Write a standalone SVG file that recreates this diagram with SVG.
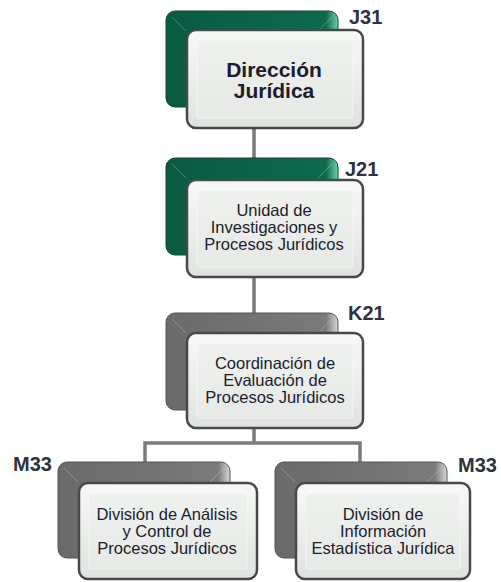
<svg xmlns="http://www.w3.org/2000/svg" width="501" height="582" viewBox="0 0 501 582">
<defs>
<linearGradient id="gFront" x1="0" y1="0" x2="0" y2="1">
<stop offset="0" stop-color="#f7f9f7"/><stop offset="1" stop-color="#dfe3df"/>
</linearGradient>
<linearGradient id="gInner" x1="0" y1="0" x2="0" y2="1">
<stop offset="0" stop-color="#eef1ee"/><stop offset="1" stop-color="#e6e9e6"/>
</linearGradient>
<linearGradient id="gGreen" x1="0" y1="0" x2="1" y2="0">
<stop offset="0" stop-color="#0a5a42"/><stop offset="0.93" stop-color="#0c6a4d"/><stop offset="1" stop-color="#6fd0a8"/>
</linearGradient>
<linearGradient id="gGrey" x1="0" y1="0" x2="1" y2="0">
<stop offset="0" stop-color="#6a6a6a"/><stop offset="0.93" stop-color="#7a7a7a"/><stop offset="1" stop-color="#d8d8d8"/>
</linearGradient>
</defs>
<style>
.front{fill:url(#gFront);stroke:#484848;stroke-width:2.5}
.inner{fill:url(#gInner);stroke:#ffffff;stroke-opacity:0.6;stroke-width:1}
.green{fill:url(#gGreen);stroke:#084a36;stroke-width:1}
.grey{fill:url(#gGrey);stroke:#555;stroke-width:1}
.bev{fill:none;stroke:#ffffff;stroke-opacity:0.25;stroke-width:1}
.t{font-family:"Liberation Sans",Arial,sans-serif;font-size:16.5px;fill:#1c1c2e;text-anchor:middle}
.tb{font-family:"Liberation Sans",Arial,sans-serif;font-size:21px;font-weight:bold;fill:#1c1c2e;text-anchor:middle}
.lab{font-family:"Liberation Sans",Arial,sans-serif;font-size:20px;font-weight:bold;fill:#2b3340}
.con{fill:none;stroke:#7a7a7a;stroke-width:3.5}
</style>
<g id="connectors">
<path class="con" d="M254 100V200"/>
<path class="con" d="M254 260V340"/>
<path class="con" d="M254 420V443H145V470M254 443H360V470"/>
</g>
<g id="j31">
<rect class="green" x="166" y="11" width="172" height="96" rx="9"/>
<path class="bev" d="M172 17L186 31M332 17L318 31"/>
<rect class="front" x="187" y="30" width="176" height="98" rx="9"/>
<rect class="inner" x="197" y="40" width="156" height="78" rx="2"/>
<text class="tb" x="274" y="77">Dirección</text>
<text class="tb" x="274" y="98">Jurídica</text>
<text class="lab" x="349" y="24">J31</text>
</g>
<g id="j21">
<rect class="green" x="166" y="158" width="172" height="97" rx="9"/>
<path class="bev" d="M172 164L186 178M332 164L318 178"/>
<rect class="front" x="187" y="180" width="176" height="97" rx="9"/>
<rect class="inner" x="197" y="190" width="156" height="77" rx="2"/>
<text class="t" x="274" y="216">Unidad de</text>
<text class="t" x="274" y="233">Investigaciones y</text>
<text class="t" x="274" y="250">Procesos Jurídicos</text>
<text class="lab" x="345" y="176">J21</text>
</g>
<g id="k21">
<rect class="grey" x="166" y="313" width="172" height="97" rx="9"/>
<path class="bev" d="M172 319L186 333M332 319L318 333"/>
<rect class="front" x="187" y="333" width="176" height="95" rx="9"/>
<rect class="inner" x="197" y="343" width="156" height="75" rx="2"/>
<text class="t" x="275" y="369">Coordinación de</text>
<text class="t" x="275" y="386">Evaluación de</text>
<text class="t" x="275" y="403">Procesos Jurídicos</text>
<text class="lab" x="348" y="320">K21</text>
</g>
<g id="m33a">
<rect class="grey" x="58" y="462" width="172" height="96" rx="9"/>
<path class="bev" d="M64 468L78 482M224 468L210 482"/>
<rect class="front" x="79" y="483" width="178" height="96" rx="9"/>
<rect class="inner" x="89" y="493" width="158" height="76" rx="2"/>
<text class="t" x="167" y="520">División de Análisis</text>
<text class="t" x="167" y="537">y Control de</text>
<text class="t" x="167" y="554">Procesos Jurídicos</text>
<text class="lab" x="13" y="471">M33</text>
</g>
<g id="m33b">
<rect class="grey" x="275" y="462" width="172" height="96" rx="9"/>
<path class="bev" d="M281 468L295 482M441 468L427 482"/>
<rect class="front" x="296" y="483" width="174" height="96" rx="9"/>
<rect class="inner" x="306" y="493" width="154" height="76" rx="2"/>
<text class="t" x="383" y="520">División de</text>
<text class="t" x="383" y="537">Información</text>
<text class="t" x="383" y="554">Estadística Jurídica</text>
<text class="lab" x="458" y="472">M33</text>
</g>
</svg>
